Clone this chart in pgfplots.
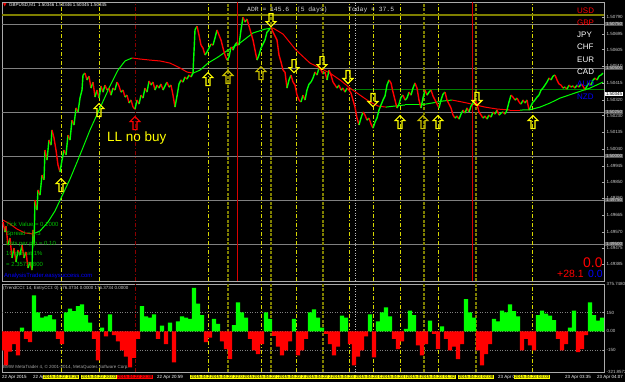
\documentclass[border=0pt]{standalone}
\usepackage{pgfplots}
\usepackage{pgfplotstable}
\pgfplotsset{compat=1.18}
\usepackage{fontspec}
\setmainfont{Liberation Sans}
\setmonofont{Liberation Mono}
\newfontfamily\dejavu{DejaVu Sans}

\definecolor{mtgreen}{RGB}{0,255,0}
\definecolor{mtred}{RGB}{255,0,0}
\definecolor{vyel}{RGB}{215,215,0}
\definecolor{volive}{RGB}{128,128,0}
\definecolor{vdred}{RGB}{140,0,0}
\definecolor{infogreen}{RGB}{0,190,0}
\definecolor{mtblue}{RGB}{0,0,255}
\definecolor{gridgray}{RGB}{128,128,128}
\definecolor{framegray}{RGB}{170,170,170}
\definecolor{arry}{RGB}{255,255,0}
\definecolor{arro}{RGB}{200,190,0}
\definecolor{hlgreen}{RGB}{0,128,0}

\pgfdeclareplotmark{uarr}{%
  \pgfpathmoveto{\pgfpoint{0bp}{6.5bp}}%
  \pgfpathlineto{\pgfpoint{5bp}{1.5bp}}%
  \pgfpathlineto{\pgfpoint{2bp}{1.5bp}}%
  \pgfpathlineto{\pgfpoint{2bp}{-6.5bp}}%
  \pgfpathlineto{\pgfpoint{-2bp}{-6.5bp}}%
  \pgfpathlineto{\pgfpoint{-2bp}{1.5bp}}%
  \pgfpathlineto{\pgfpoint{-5bp}{1.5bp}}%
  \pgfpathclose\pgfusepathqstroke}
\pgfdeclareplotmark{darr}{%
  \pgfpathmoveto{\pgfpoint{0bp}{-6.5bp}}%
  \pgfpathlineto{\pgfpoint{5bp}{-1.5bp}}%
  \pgfpathlineto{\pgfpoint{2bp}{-1.5bp}}%
  \pgfpathlineto{\pgfpoint{2bp}{6.5bp}}%
  \pgfpathlineto{\pgfpoint{-2bp}{6.5bp}}%
  \pgfpathlineto{\pgfpoint{-2bp}{-1.5bp}}%
  \pgfpathlineto{\pgfpoint{-5bp}{-1.5bp}}%
  \pgfpathclose\pgfusepathqstroke}

% price (x in bars/pixels, p price, c = 1 if next bar is higher)
\pgfplotstableread{
x p c
3 1.49625 0
5 1.49568 1
6 1.49602 0
8 1.49494 1
10 1.49534 0
12 1.49421 1
14 1.49477 0
16 1.49398 1
18 1.49466 0
20 1.49438 1
22 1.49494 0
24 1.49421 1
26 1.49455 0
28 1.49364 1
30 1.49398 0
32 1.49352 1
33 1.49580 0
34 1.49494 1
35 1.49750 0
37 1.49693 1
38 1.49807 0
40 1.49778 1
42 1.49892 0
44 1.49864 1
45 1.50034 0
47 1.49977 1
49 1.50091 0
51 1.50062 1
52 1.50148 0
54 1.50102 0
56 1.50034 0
58 1.49949 0
60 1.49909 1
62 1.49977 1
64 1.50034 0
66 1.50006 1
68 1.50119 0
70 1.50091 1
72 1.50204 0
74 1.50176 1
76 1.50273 0
78 1.50250 1
80 1.50329 1
82 1.50375 1
83 1.50460 1
85 1.50471 0
87 1.50432 1
89 1.50454 0
91 1.50386 1
93 1.50420 0
95 1.50335 1
97 1.50375 0
99 1.50329 1
101 1.50398 0
103 1.50363 1
105 1.50403 0
107 1.50375 1
109 1.50386 0
111 1.50346 1
113 1.50386 0
115 1.50375 1
117 1.50420 0
119 1.50398 0
121 1.50363 1
123 1.50375 0
125 1.50335 1
127 1.50346 0
129 1.50301 1
131 1.50318 0
133 1.50278 0
135 1.50267 1
137 1.50318 0
139 1.50295 1
141 1.50346 0
143 1.50329 1
145 1.50386 0
147 1.50363 1
149 1.50426 0
151 1.50403 1
153 1.50420 0
155 1.50375 1
157 1.50403 0
159 1.50386 1
161 1.50409 0
163 1.50375 1
165 1.50398 1
167 1.50420 0
169 1.50392 1
171 1.50403 0
173 1.50346 0
175 1.50278 1
177 1.50341 1
179 1.50409 1
181 1.50432 0
183 1.50420 1
185 1.50449 0
187 1.50437 1
189 1.50460 0
191 1.50449 1
193 1.50471 1
195 1.50716 1
197 1.50738 0
199 1.50687 0
201 1.50630 0
203 1.50613 0
205 1.50574 1
207 1.50591 1
209 1.50613 1
211 1.50636 0
213 1.50630 1
215 1.50670 1
217 1.50716 0
219 1.50687 0
221 1.50659 0
223 1.50613 0
225 1.50574 0
227 1.50545 1
229 1.50562 1
231 1.50619 0
233 1.50602 1
235 1.50630 1
237 1.50647 0
239 1.50630 1
241 1.50716 1
243 1.50789 0
245 1.50761 1
247 1.50778 0
249 1.50738 0
251 1.50699 0
253 1.50659 0
255 1.50602 0
257 1.50545 1
259 1.50574 1
261 1.50613 1
263 1.50636 1
265 1.50659 1
267 1.50704 1
269 1.50716 1
271 1.50733 0
273 1.50704 0
275 1.50682 0
277 1.50659 0
279 1.50574 0
281 1.50534 0
283 1.50488 0
285 1.50477 0
287 1.50386 1
289 1.50432 1
291 1.50460 0
293 1.50420 0
295 1.50403 0
297 1.50346 0
299 1.50318 0
301 1.50307 1
303 1.50346 0
305 1.50318 1
307 1.50375 1
309 1.50409 1
311 1.50420 1
313 1.50443 1
315 1.50477 0
317 1.50460 1
319 1.50500 0
321 1.50488 0
323 1.50466 1
325 1.50477 0
327 1.50432 1
329 1.50488 0
331 1.50460 0
333 1.50420 0
335 1.50403 0
337 1.50386 1
339 1.50403 0
341 1.50375 1
343 1.50386 0
345 1.50363 1
347 1.50386 0
349 1.50375 0
351 1.50358 0
353 1.50318 0
355 1.50278 0
357 1.50216 0
359 1.50176 1
361 1.50216 1
363 1.50250 0
365 1.50233 0
367 1.50204 1
369 1.50216 0
371 1.50182 0
373 1.50159 1
375 1.50193 1
377 1.50216 1
379 1.50261 1
381 1.50290 1
383 1.50318 1
385 1.50341 1
387 1.50403 1
389 1.50432 0
391 1.50415 0
393 1.50363 0
395 1.50318 0
397 1.50273 1
399 1.50295 1
401 1.50335 1
403 1.50346 0
405 1.50318 1
407 1.50329 1
409 1.50363 0
411 1.50346 1
413 1.50386 1
415 1.50415 0
417 1.50386 0
419 1.50318 0
421 1.50273 1
423 1.50329 1
425 1.50375 0
427 1.50346 1
429 1.50363 1
431 1.50375 0
433 1.50341 0
435 1.50318 0
437 1.50295 0
439 1.50273 1
441 1.50318 1
443 1.50352 1
445 1.50363 0
447 1.50318 0
449 1.50295 0
451 1.50273 0
453 1.50233 0
455 1.50216 1
457 1.50227 0
459 1.50210 1
461 1.50238 1
463 1.50261 0
465 1.50244 1
467 1.50273 0
469 1.50250 1
471 1.50284 1
473 1.50301 1
475 1.50318 0
477 1.50295 0
479 1.50250 0
481 1.50233 0
483 1.50216 1
485 1.50227 0
487 1.50210 1
489 1.50233 0
491 1.50221 1
493 1.50250 0
495 1.50238 1
497 1.50261 0
499 1.50233 1
501 1.50244 1
503 1.50250 0
505 1.50238 1
507 1.50261 1
509 1.50307 1
511 1.50346 0
513 1.50335 0
515 1.50318 1
517 1.50329 0
519 1.50307 0
521 1.50295 1
523 1.50318 0
525 1.50301 1
527 1.50318 0
529 1.50261 1
531 1.50284 1
533 1.50307 1
535 1.50318 1
537 1.50335 1
539 1.50346 1
541 1.50375 1
543 1.50386 1
545 1.50403 1
547 1.50420 1
549 1.50443 0
551 1.50432 1
553 1.50454 1
555 1.50460 0
557 1.50432 0
559 1.50409 0
561 1.50403 0
563 1.50386 1
565 1.50392 0
567 1.50380 1
569 1.50403 0
571 1.50392 1
573 1.50398 0
575 1.50386 1
577 1.50403 0
579 1.50392 1
581 1.50409 0
583 1.50398 0
585 1.50375 1
587 1.50398 1
589 1.50415 0
591 1.50403 1
593 1.50432 1
595 1.50443 0
597 1.50432 1
599 1.50454 1
601 1.50460 1
603 1.50471 1
}\price

% moving average (c = 1 rising)
\pgfplotstableread{
x p c
3 1.49636 0
10 1.49614 0
17 1.49585 0
25 1.49563 0
33 1.49557 1
40 1.49574 1
48 1.49625 1
55 1.49688 1
62 1.49773 1
70 1.49869 1
80 1.50006 1
90 1.50148 1
100 1.50273 1
110 1.50398 1
118 1.50488 1
125 1.50540 1
132 1.50557 0
140 1.50551 0
150 1.50545 0
160 1.50540 0
170 1.50528 0
180 1.50500 0
187 1.50477 0
193 1.50471 1
200 1.50488 1
208 1.50528 1
218 1.50562 1
228 1.50602 1
240 1.50642 1
253 1.50699 1
265 1.50721 1
273 1.50727 0
283 1.50693 0
296 1.50602 0
310 1.50528 0
320 1.50500 0
330 1.50471 0
340 1.50432 0
350 1.50386 0
360 1.50346 0
370 1.50307 0
378 1.50284 0
386 1.50278 1
395 1.50284 1
405 1.50290 1
420 1.50290 1
432 1.50301 1
442 1.50312 1
452 1.50318 0
462 1.50307 0
472 1.50295 0
485 1.50278 0
497 1.50267 0
510 1.50261 0
520 1.50261 1
530 1.50263 1
540 1.50278 1
550 1.50301 1
560 1.50329 1
575 1.50358 1
590 1.50386 1
603 1.50420 1
}\ma

\pgfplotstableread{
x v
2 -150
6 -270
10 -160
14 -100
18 -190
22 30
26 -60
30 -85
34 285
38 150
42 110
46 120
50 130
54 95
58 -60
62 -100
66 150
70 180
74 160
78 200
82 215
86 130
90 70
94 -60
98 -230
102 30
106 -40
110 135
114 -30
118 -80
122 -150
126 -200
130 -285
134 -210
138 -60
142 200
146 120
150 110
154 135
158 -60
162 45
166 -100
170 70
174 -245
178 80
182 120
186 110
190 100
194 345
198 220
202 130
206 -85
210 -50
214 100
218 60
222 -80
226 -140
230 -220
234 50
238 230
242 150
246 110
250 -60
254 -150
258 -180
262 -100
266 150
270 100
274 -35
278 -120
282 -190
286 -150
290 -80
294 100
298 -190
302 -150
306 -60
310 150
314 175
318 110
322 30
326 -20
330 -100
334 -190
338 -120
342 125
346 110
350 -100
354 -270
358 -200
362 -150
366 -40
370 135
374 -205
378 80
382 150
386 190
390 120
394 -60
398 -140
402 -80
406 20
410 165
414 130
418 -110
422 -190
426 -100
430 85
434 -20
438 -140
442 40
446 -60
450 -150
454 -120
458 -220
462 -100
466 255
470 150
474 110
478 -150
482 -270
486 -180
490 -100
494 100
498 80
502 165
506 150
510 215
514 160
518 120
522 -150
526 -60
530 -110
534 -150
538 130
542 165
546 140
550 125
554 90
558 -60
562 -150
566 -100
570 30
574 165
578 -165
582 -140
586 -30
590 230
594 130
598 85
602 110
}\cci

\tikzset{
  vy/.style={vyel, line width=0.7bp, dash pattern=on 4bp off 2bp on 1bp off 2bp},
  vo/.style={volive, line width=1.3bp, dash pattern=on 3bp off 1.5bp},
  vr/.style={vdred, line width=0.8bp, dash pattern=on 4bp off 2bp on 1bp off 2bp},
  vrs/.style={mtred!85!black, line width=0.8bp},
  vw/.style={white!75!black, line width=0.6bp, dash pattern=on 1bp off 1.5bp},
  tinyf/.style={font=\fontsize{4.5}{5}\selectfont},
}

\begin{document}
\begin{tikzpicture}
\useasboundingbox (0,0) rectangle (625bp,-382bp);
\fill[black] (0,0) rectangle (625bp,-382bp);

\begin{axis}[
  at={(2bp,-2bp)}, anchor=north west, scale only axis,
  width=602bp, height=279bp,
  xmin=2, xmax=604, ymin=1.49290, ymax=1.50875,
  axis line style={framegray, line width=0.6bp},
  xtick=\empty,
  ytick pos=right, yticklabel pos=right,
  ytick={1.49385,1.49475,1.49570,1.49665,1.49760,1.49850,1.49945,1.50040,1.50135,1.50230,1.50320,1.50415,1.50510,1.50605,1.50695,1.50790},
  scaled y ticks=false,
  yticklabel style={font=\fontsize{4.5}{5}\selectfont, text=white!80!black, xshift=-1bp,
    /pgf/number format/.cd, fixed, precision=5, fixed zerofill, assume math mode=true},
  major tick length=2bp, tick style={framegray},
]
% horizontal levels
\pgfplotsinvokeforeach{1.5075,1.5050,1.5025,1.5000,1.4975,1.4950}{
  \draw[gridgray, line width=0.8bp] (axis cs:2,#1) -- (axis cs:604,#1);}
\draw[volive, line width=1.8bp] (axis cs:2,1.50801) -- (axis cs:604,1.50801);
\draw[hlgreen, line width=1.5bp] (axis cs:348,1.50378) -- (axis cs:604,1.50378);
% vertical lines
\pgfplotsinvokeforeach{61,99,208,261,296,349,373,400,438,532}{
  \draw[vy] (axis cs:#1,1.49290) -- (axis cs:#1,1.50875);}
\pgfplotsinvokeforeach{228,271,323,424,476}{
  \draw[vo] (axis cs:#1,1.49290) -- (axis cs:#1,1.50875);}
\pgfplotsinvokeforeach{237,472}{
  \draw[vrs] (axis cs:#1,1.49290) -- (axis cs:#1,1.50875);}
\draw[vr] (axis cs:135,1.49290) -- (axis cs:135,1.50875);
\draw[vw] (axis cs:355,1.49290) -- (axis cs:355,1.50875);
% moving average
\addplot[mesh, shader=flat corner, point meta=explicit, point meta min=0, point meta max=1,
  colormap={rg}{rgb255=(255,0,0) rgb255=(0,255,0)}, line width=1bp]
  table[x=x, y=p, meta=c] {\ma};
% price
\addplot[mesh, shader=flat corner, point meta=explicit, point meta min=0, point meta max=1,
  colormap={rg}{rgb255=(255,0,0) rgb255=(0,255,0)}, line width=1.4bp]
  table[x=x, y=p, meta=c] {\price};
% arrows
\addplot[only marks, mark=uarr, mark options={draw=arry, fill=none, line width=1.1bp}]
  coordinates {(61,1.49835) (99,1.50261) (208,1.50437) (400,1.50193) (438,1.50193) (533,1.50193)};
\addplot[only marks, mark=uarr, mark options={draw=arro, fill=none, line width=1.1bp}]
  coordinates {(228,1.50449) (261,1.50471) (423,1.50193)};
\addplot[only marks, mark=uarr, mark options={draw=mtred, fill=none, line width=1.1bp}]
  coordinates {(135,1.50187)};
\addplot[only marks, mark=darr, mark options={draw=arry, fill=none, line width=1.1bp}]
  coordinates {(271,1.50772) (294,1.50511) (322,1.50528) (348,1.50449) (373,1.50318) (477,1.50324)};
\end{axis}

\begin{axis}[
  at={(2bp,-284bp)}, anchor=north west, scale only axis,
  width=602bp, height=88bp,
  xmin=2, xmax=604, ymin=-321.8572, ymax=375.748,
  axis line style={framegray, line width=0.6bp},
  xtick=\empty,
  ytick pos=right, yticklabel pos=right,
  ytick={-321.8572,-150,0,150,375.748},
  yticklabels={-321.8572,-150,0.00,150,375.7480},
  yticklabel style={font=\fontsize{4.5}{5}\selectfont, text=white!80!black, xshift=-1bp},
  major tick length=2bp, tick style={framegray},
]
\pgfplotsinvokeforeach{150,0,-150}{
  \draw[gridgray, line width=0.6bp, dash pattern=on 1bp off 1.5bp] (axis cs:2,#1) -- (axis cs:604,#1);}
\pgfplotsinvokeforeach{61,99,208,261,296,349,373,400,438,532}{
  \draw[vy] (axis cs:#1,-321.8572) -- (axis cs:#1,375.748);}
\pgfplotsinvokeforeach{228,271,323,424,476}{
  \draw[vo] (axis cs:#1,-321.8572) -- (axis cs:#1,375.748);}
\draw[vr] (axis cs:135,-321.8572) -- (axis cs:135,375.748);
\draw[vw] (axis cs:355,-321.8572) -- (axis cs:355,375.748);
\addplot[ybar, bar width=4.1bp, bar shift=0pt, fill=mtgreen, draw=none,
  restrict y to domain=0:1000] table[x=x, y=v] {\cci};
\addplot[ybar, bar width=4.1bp, bar shift=0pt, fill=mtred, draw=none,
  restrict y to domain=-1000:0] table[x=x, y=v] {\cci};
\end{axis}

% ---- texts in the price panel
\node[anchor=west, inner sep=0, text=mtred, font=\dejavu\fontsize{4.5}{5}\selectfont] at (3bp,-5bp) {▼};
\node[anchor=west, inner sep=0, text=white, tinyf] at (9bp,-5bp) {GBPUSD,M1\ \ 1.50346 1.50346 1.50345 1.50345};
\node[anchor=west, inner sep=0, text=white!85!black, font=\ttfamily\fontsize{6.4}{7}\selectfont] at (247bp,-10bp) {ADR = 145.6\ \ (5 days)};
\node[anchor=west, inner sep=0, text=white!85!black, font=\ttfamily\fontsize{6.4}{7}\selectfont] at (348bp,-10bp) {Today = 37.5};
\foreach \t/\c/\yy in {USD/mtred/11,GBP/mtred/23,JPY/white/35,CHF/white/47,EUR/white/60,CAD/white/72,AUD/mtblue/84,NZD/mtblue/97}
  \node[anchor=west, inner sep=0, text=\c, font=\fontsize{8}{9}\selectfont] at (577bp,-\yy bp) {\t};
\node[anchor=west, inner sep=0, text=arry, font=\fontsize{13.5}{15}\selectfont] at (107bp,-138bp) {LL no buy};
\foreach \t/\yy in {{Tick Value = 0.1000}/224,{Spread = 1.3}/234,{Lots per pip = 0.10}/244,{10 pips at 1\%}/254,{= 2.35728800}/264}
  \node[anchor=west, inner sep=0, text=infogreen, font=\fontsize{6}{7}\selectfont] at (6bp,-\yy bp) {\t};
\node[anchor=west, inner sep=0, text=mtblue, font=\fontsize{6}{7}\selectfont] at (4bp,-276bp) {AnalysisTrader.easysuccess.com};
\node[anchor=west, inner sep=0, text=mtred, font=\fontsize{14}{15}\selectfont] at (583bp,-263bp) {0.0};
\node[anchor=west, inner sep=0, text=mtred, font=\fontsize{10.5}{12}\selectfont] at (557bp,-274bp) {+28.1};
\node[anchor=west, inner sep=0, text=mtblue, font=\fontsize{10.5}{12}\selectfont] at (588bp,-274bp) {0.0};
% right-axis level boxes
\foreach \t/\yy in {1.50750/24,1.50500/68,1.50250/112,1.50000/156,1.49750/200,1.49500/244}
  \node[anchor=west, inner xsep=0.8bp, inner ysep=0.6bp, fill=gray!65!black, text=white!90!black, tinyf] at (605bp,-\yy bp) {\t};
\node[anchor=west, inner xsep=0.8bp, inner ysep=0.6bp, fill=white, text=black, tinyf] at (605bp,-94bp) {1.50345};

% ---- CCI texts
\node[anchor=west, inner sep=0, text=white!80!black, tinyf] at (3bp,-288bp) {(TrendCCI: 14, EntryCCI: 0) 176.3734 0.0000 176.3734 0.0000};
\node[anchor=west, inner sep=0, text=white!65!black, tinyf] at (3bp,-367bp) {BMW MetaTrader 4, © 2001-2014, MetaQuotes Software Corp.};

% ---- time axis
\foreach \t/\xx in {22 Apr 2015/2,22 Apr 19:00/33,22 Apr 20:59/157,23 Apr 02:35/498,23 Apr 03:35/565,23 Apr 04:07/597}
  \node[anchor=west, inner sep=0, text=white, tinyf] at (\xx bp,-377bp) {\t};
\foreach \t/\xx in {19:26/61,20:03/99,21:48/208,22:08/228,22:40/261,22:50/271,23:14/296,23:40/323}
  \node[fill=arry, text=black, inner xsep=1bp, inner ysep=0.8bp, tinyf] at (\xx bp,-377bp) {2015.04.22 \t};
\node[fill=mtred, text=black, inner xsep=1bp, inner ysep=0.8bp, tinyf] at (135bp,-377bp) {2015.04.22 20:38};
\foreach \t/\xx in {00:05/349,00:29/373,00:54/399,01:18/424,01:32/438,02:08/476,03:03/532}
  \node[fill=arry, text=black, inner xsep=1bp, inner ysep=0.8bp, tinyf] at (\xx bp,-377bp) {2015.04.23 \t};
\end{tikzpicture}
\end{document}
